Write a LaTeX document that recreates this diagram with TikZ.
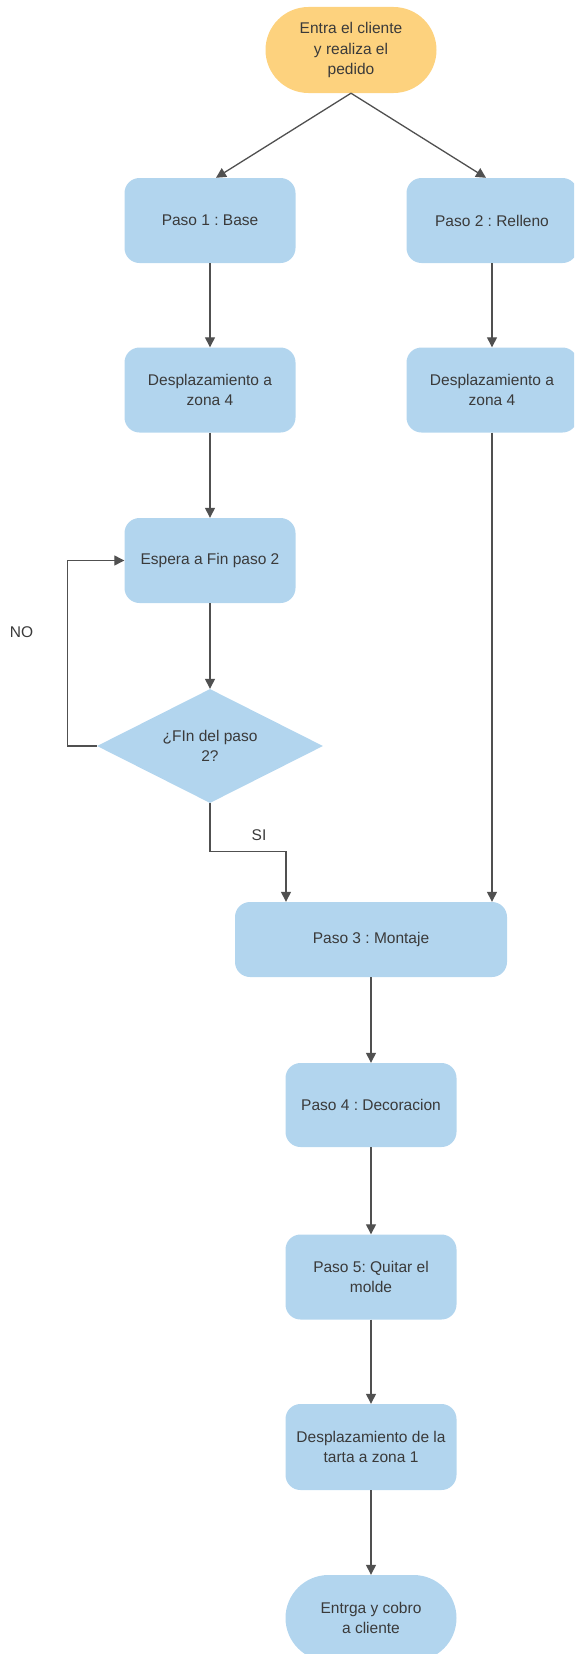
\documentclass[tikz,border=0pt]{standalone}
\usepackage{fontspec}
\setmainfont{Liberation Sans}
\usetikzlibrary{arrows.meta,shapes.geometric}
\frenchspacing
\definecolor{boxblue}{HTML}{B2D5EE}
\definecolor{startorange}{HTML}{FDD27E}
\definecolor{txtgray}{HTML}{3A3A3A}
\definecolor{linegray}{HTML}{505050}
\begin{document}
\begin{tikzpicture}[x=1pt,y=-1pt,
  every node/.style={font=\fontsize{15.5}{20.5}\selectfont, text=txtgray, align=center},
  stepbox/.style={draw=none, fill=boxblue, rounded corners=15pt, minimum width=171pt, minimum height=85pt, inner sep=0pt},
  pill/.style={draw=none, rounded corners=43pt, minimum width=171pt, minimum height=86pt, inner sep=0pt},
  decision/.style={draw=none, fill=boxblue, diamond, aspect=1.98, minimum width=226pt, minimum height=114pt, inner sep=0pt},
  flow/.style={draw=linegray, line width=1.3pt, -{Triangle[length=10pt,width=10pt]}},
  lbl/.style={font=\fontsize{15.5}{18}\selectfont}
]
\clip (0,0) rectangle (574,1654);
\useasboundingbox (0,0) rectangle (574,1654);

% start and the two parallel branches
\node[pill, fill=startorange] (start) at (351,50) {Entra el cliente\\y realiza el\\pedido};
\node[stepbox] (p1) at (210,220.5) {Paso 1 : Base};
\node[stepbox] (p2) at (492,220.5) {Paso 2 : Relleno};
\node[stepbox] (d1) at (210,390) {Desplazamiento a\\zona 4};
\node[stepbox] (d2) at (492,390) {Desplazamiento a\\zona 4};
\node[stepbox] (esp) at (210,560.5) {Espera a Fin paso 2};
\node[decision] (dia) at (210,746) {¿FIn del paso\\2?};

% assembly and finishing
\node[stepbox, minimum width=272pt, minimum height=75pt] (p3) at (371,939.5) {Paso 3 : Montaje};
\node[stepbox, minimum height=84pt] (p4) at (371,1105) {Paso 4 : Decoracion};
\node[stepbox] (p5) at (371,1277) {Paso 5: Quitar el\\molde};
\node[stepbox, minimum height=86pt] (p6) at (371,1447) {Desplazamiento de la\\tarta a zona 1};
\node[pill, fill=boxblue] (end) at (371,1618) {Entrga y cobro\\a cliente};

% labels
\node[lbl] (no) at (21.5,632) {NO};
\node[lbl] (si) at (259,835) {SI};

% connectors
\draw[flow] (start.south) -- ([xshift=6pt]p1.north);
\draw[flow] (start.south) -- ([xshift=-6pt]p2.north);
\draw[flow] (p1) -- (d1);
\draw[flow] (p2) -- (d2);
\draw[flow] (d1) -- (esp);
\draw[flow] (esp) -- (dia);
\draw[flow] (dia.west) -- ++(-29,0) |- (esp.west);
\draw[flow] (dia.south) -- ++(0,48) -| ([xshift=-85pt]p3.north);
\draw[flow] (d2.south) -- (d2.south |- p3.north);
\draw[flow] (p3) -- (p4);
\draw[flow] (p4) -- (p5);
\draw[flow] (p5) -- (p6);
\draw[flow] (p6) -- (end);
\end{tikzpicture}
\end{document}
